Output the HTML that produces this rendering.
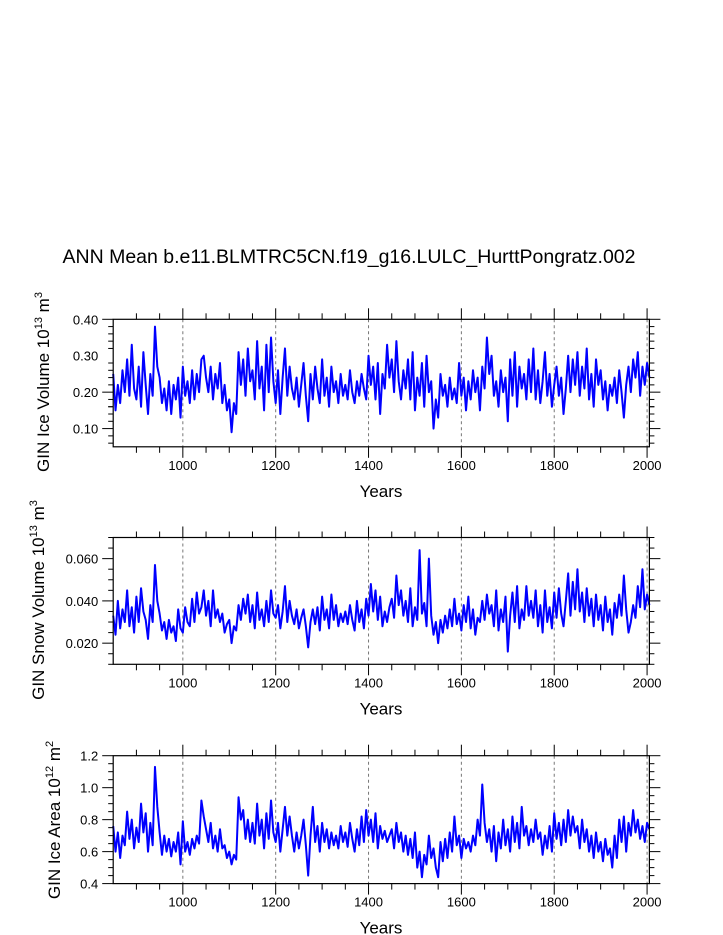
<!DOCTYPE html>
<html><head><meta charset="utf-8"><style>
html,body{margin:0;padding:0;background:#fff;}
svg{display:block;font-family:"Liberation Sans",sans-serif;}
</style></head><body>
<svg id="c" width="723" height="935" viewBox="0 0 723 935">
<text x="349" y="263" font-size="19.5" text-anchor="middle">ANN Mean b.e11.BLMTRC5CN.f19_g16.LULC_HurttPongratz.002</text>
</svg>
<script>
const startYear = 850, stepYears = 5;
const iceVolume = [
0.25,0.15,0.22,0.17,0.26,0.20,0.29,0.19,0.33,0.21,0.18,0.27,0.16,0.31,0.22,0.14,0.25,0.19,0.38,0.27,
0.24,0.17,0.21,0.15,0.23,0.14,0.22,0.18,0.24,0.13,0.27,0.19,0.23,0.17,0.26,0.18,0.25,0.20,0.29,0.30,
0.24,0.20,0.27,0.18,0.25,0.21,0.28,0.17,0.22,0.15,0.18,0.09,0.17,0.14,0.31,0.22,0.29,0.19,0.32,0.23,
0.26,0.18,0.34,0.21,0.27,0.15,0.33,0.20,0.35,0.23,0.17,0.26,0.14,0.24,0.32,0.19,0.27,0.21,0.18,0.24,
0.16,0.22,0.28,0.19,0.12,0.25,0.18,0.27,0.21,0.17,0.29,0.19,0.24,0.16,0.27,0.20,0.23,0.17,0.25,0.19,
0.22,0.18,0.26,0.20,0.17,0.23,0.19,0.25,0.21,0.18,0.30,0.22,0.27,0.18,0.28,0.14,0.25,0.21,0.33,0.24,
0.29,0.20,0.34,0.23,0.18,0.26,0.21,0.29,0.18,0.31,0.15,0.24,0.19,0.28,0.16,0.30,0.20,0.23,0.10,0.18,
0.13,0.25,0.19,0.22,0.16,0.24,0.18,0.21,0.17,0.28,0.19,0.24,0.15,0.23,0.18,0.26,0.20,0.24,0.15,0.27,
0.21,0.35,0.25,0.30,0.19,0.23,0.16,0.26,0.20,0.24,0.12,0.29,0.19,0.31,0.16,0.27,0.21,0.25,0.18,0.29,
0.20,0.32,0.18,0.26,0.17,0.23,0.31,0.19,0.25,0.16,0.22,0.27,0.19,0.24,0.14,0.21,0.30,0.20,0.29,0.22,
0.31,0.19,0.27,0.21,0.32,0.18,0.25,0.16,0.29,0.22,0.26,0.18,0.23,0.15,0.22,0.19,0.24,0.17,0.26,0.20,
0.13,0.22,0.27,0.20,0.29,0.24,0.31,0.19,0.27,0.22,0.28,0.24];
const snowVolume = [
0.033,0.024,0.040,0.027,0.036,0.030,0.045,0.028,0.037,0.025,0.042,0.030,0.046,0.035,0.031,0.022,0.038,0.030,0.057,0.040,
0.034,0.026,0.030,0.022,0.031,0.025,0.028,0.021,0.036,0.027,0.025,0.037,0.030,0.028,0.041,0.030,0.044,0.034,0.037,0.045,
0.033,0.040,0.028,0.045,0.032,0.036,0.030,0.034,0.025,0.029,0.031,0.020,0.028,0.026,0.038,0.031,0.041,0.034,0.043,0.030,
0.038,0.027,0.044,0.031,0.036,0.028,0.040,0.030,0.045,0.034,0.032,0.038,0.027,0.035,0.047,0.030,0.040,0.033,0.029,0.036,
0.027,0.032,0.036,0.028,0.018,0.030,0.036,0.029,0.037,0.026,0.042,0.031,0.036,0.027,0.043,0.031,0.038,0.028,0.034,0.030,
0.035,0.029,0.038,0.031,0.026,0.040,0.030,0.036,0.027,0.041,0.033,0.048,0.035,0.045,0.031,0.042,0.028,0.035,0.030,0.037,
0.041,0.032,0.052,0.038,0.045,0.033,0.040,0.030,0.046,0.028,0.037,0.031,0.064,0.034,0.039,0.028,0.060,0.033,0.024,0.030,
0.020,0.031,0.025,0.033,0.027,0.036,0.028,0.041,0.029,0.034,0.026,0.038,0.030,0.042,0.027,0.036,0.024,0.032,0.030,0.040,
0.031,0.043,0.034,0.038,0.028,0.045,0.026,0.036,0.030,0.042,0.016,0.033,0.044,0.030,0.047,0.027,0.036,0.031,0.047,0.033,
0.040,0.032,0.045,0.028,0.038,0.025,0.045,0.030,0.037,0.027,0.044,0.032,0.046,0.034,0.028,0.040,0.053,0.033,0.049,0.036,
0.055,0.035,0.044,0.030,0.046,0.033,0.041,0.028,0.043,0.031,0.038,0.026,0.042,0.030,0.036,0.024,0.039,0.032,0.043,0.033,
0.052,0.036,0.025,0.030,0.038,0.032,0.047,0.037,0.055,0.036,0.043,0.038];
const iceArea = [
0.76,0.60,0.72,0.56,0.70,0.64,0.85,0.68,0.80,0.62,0.75,0.66,0.90,0.72,0.84,0.60,0.78,0.64,1.13,0.88,
0.72,0.58,0.70,0.60,0.68,0.57,0.66,0.60,0.72,0.52,0.79,0.60,0.66,0.58,0.68,0.62,0.70,0.65,0.92,0.82,
0.74,0.66,0.78,0.62,0.70,0.60,0.74,0.62,0.64,0.56,0.60,0.52,0.58,0.55,0.94,0.80,0.86,0.68,0.80,0.66,
0.78,0.65,0.90,0.70,0.80,0.62,0.84,0.68,0.92,0.72,0.66,0.78,0.60,0.74,0.88,0.70,0.82,0.70,0.60,0.72,
0.62,0.70,0.80,0.64,0.45,0.70,0.88,0.66,0.76,0.60,0.78,0.66,0.74,0.62,0.72,0.64,0.70,0.62,0.76,0.66,
0.72,0.63,0.78,0.68,0.60,0.74,0.64,0.82,0.66,0.86,0.70,0.80,0.66,0.84,0.62,0.76,0.68,0.73,0.66,0.70,
0.74,0.62,0.78,0.66,0.72,0.60,0.70,0.58,0.68,0.56,0.72,0.50,0.60,0.44,0.58,0.52,0.70,0.56,0.62,0.50,
0.44,0.66,0.54,0.68,0.56,0.72,0.60,0.82,0.64,0.70,0.56,0.68,0.62,0.66,0.60,0.70,0.64,0.80,0.70,1.02,
0.78,0.66,0.74,0.60,0.76,0.54,0.72,0.62,0.80,0.64,0.74,0.60,0.82,0.66,0.78,0.62,0.88,0.70,0.76,0.64,
0.74,0.66,0.80,0.68,0.72,0.58,0.70,0.62,0.76,0.60,0.84,0.68,0.78,0.64,0.80,0.66,0.86,0.70,0.82,0.72,
0.76,0.62,0.80,0.66,0.74,0.60,0.70,0.56,0.72,0.60,0.66,0.54,0.68,0.58,0.62,0.50,0.70,0.56,0.80,0.66,
0.82,0.60,0.78,0.70,0.86,0.72,0.80,0.68,0.76,0.66,0.78,0.74];
const xTickLabels = ["1000","1200","1400","1600","1800","2000"];
const yTicks1 = ["0.10","0.20","0.30","0.40"];
const yTicks2 = ["0.020","0.040","0.060"];
const yTicks3 = ["0.4","0.6","0.8","1.0","1.2"];

const NS="http://www.w3.org/2000/svg";
const svg=document.getElementById('c');
function mk(tag,attrs,parent){const e=document.createElementNS(NS,tag);for(const k in attrs)e.setAttribute(k,attrs[k]);(parent||svg).appendChild(e);return e;}
const X0=113.2,X1=649.4,XMIN=850,XMAX=2005;
function xs(v){return X0+(v-XMIN)/(XMAX-XMIN)*(X1-X0);}

function panel(cfg){
  const g=mk('g',{});
  
  
  const ys=v=>cfg.bot-(v-cfg.min)/(cfg.max-cfg.min)*(cfg.bot-cfg.top);
  xTickLabels.forEach(t=>{const l=mk('line',{x1:xs(+t),x2:xs(+t),y1:cfg.top,y2:cfg.bot,stroke:'#777','stroke-width':1,'stroke-dasharray':'3,3'},g);
    
    });
  let d='';
  cfg.data.forEach((v,i)=>{d+=(i?'L':'M')+xs(startYear+i*stepYears).toFixed(2)+','+ys(v).toFixed(2);});
  const p=mk('path',{d:d,fill:'none',stroke:'#0000ff','stroke-width':2,'stroke-linejoin':'round'},g);
  
  
  const r=mk('rect',{x:X0,y:cfg.top,width:X1-X0,height:cfg.bot-cfg.top,fill:'none',stroke:'#000','stroke-width':1.2},g);
  
  
  for(let yr=900;yr<=2000;yr+=50){
    const maj=yr%200===0, L=maj?11:6;
    mk('line',{x1:xs(yr),x2:xs(yr),y1:cfg.bot,y2:cfg.bot+L,stroke:'#000','stroke-width':1},g);
    mk('line',{x1:xs(yr),x2:xs(yr),y1:cfg.top,y2:cfg.top-L,stroke:'#000','stroke-width':1},g);
  }
  xTickLabels.forEach(t=>{const e=mk('text',{x:xs(+t),y:cfg.bot+23,'font-size':13,'text-anchor':'middle'},g);e.textContent=t;
    
    });
  for(let v=cfg.min;v<=cfg.max+1e-9;v+=cfg.minor){
    const vv=Math.round(v/cfg.minor)*cfg.minor;
    const maj=cfg.ticks.some(t=>Math.abs(+t-vv)<1e-9), L=maj?11:5;
    mk('line',{x1:X0,x2:X0-L,y1:ys(vv),y2:ys(vv),stroke:'#000','stroke-width':1},g);
    mk('line',{x1:X1,x2:X1+L,y1:ys(vv),y2:ys(vv),stroke:'#000','stroke-width':1},g);
  }
  cfg.ticks.forEach(t=>{const e=mk('text',{x:X0-15,y:ys(+t)+5,'font-size':13,'text-anchor':'end'},g);e.textContent=t;
    
    });
  const xt=mk('text',{x:381,y:cfg.bot+50,'font-size':17,'text-anchor':'middle'},g);xt.textContent='Years';
  
  
  const yt=mk('text',{x:0,y:0,'font-size':17,'text-anchor':'middle',transform:'translate('+cfg.tx+','+cfg.ty+') rotate(-90)'},g);
  yt.innerHTML=cfg.title;
  
  
}
panel({name:'ice-volume',data:iceVolume,top:319.3,bot:446.8,min:0.05,max:0.40,minor:0.02,ticks:yTicks1,tx:49,ty:382,
  title:'GIN Ice Volume 10<tspan font-size="11" dy="-7">13</tspan><tspan dy="7"> m</tspan><tspan font-size="11" dy="-7">3</tspan>'});
panel({name:'snow-volume',data:snowVolume,top:537.5,bot:664.3,min:0.01,max:0.07,minor:0.005,ticks:yTicks2,tx:44,ty:600,
  title:'GIN Snow Volume 10<tspan font-size="11" dy="-7">13</tspan><tspan dy="7"> m</tspan><tspan font-size="11" dy="-7">3</tspan>'});
panel({name:'ice-area',data:iceArea,top:755.7,bot:883.6,min:0.4,max:1.2,minor:0.05,ticks:yTicks3,tx:60,ty:820,
  title:'GIN Ice Area 10<tspan font-size="11" dy="-7">12</tspan><tspan dy="7"> m</tspan><tspan font-size="11" dy="-7">2</tspan>'});
</script>
</body></html>
